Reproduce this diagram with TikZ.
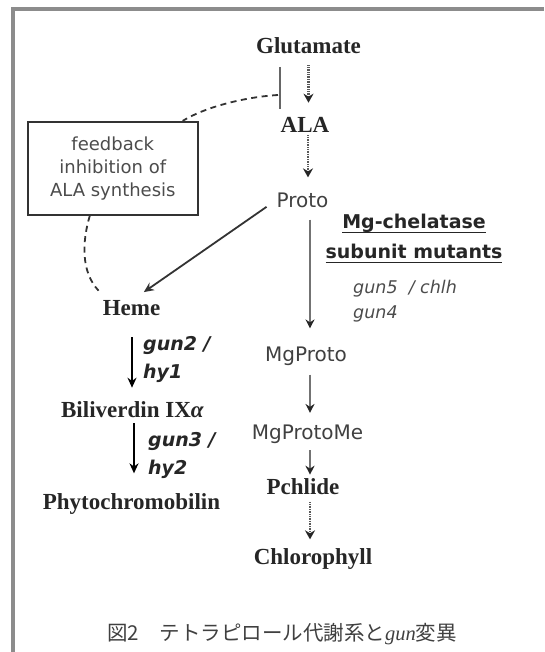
\documentclass[tikz,border=0pt]{standalone}
\usepackage{fontspec}
\setmainfont{Liberation Serif}
\newfontfamily\gothic{DejaVu Sans}
\newfontfamily\jpfont{Noto Sans CJK JP}
\usetikzlibrary{arrows.meta}
\newcommand\thickul[1]{\leavevmode\setbox0\hbox{#1}\rlap{\rule[-5pt]{\wd0}{1.8pt}}\box0}

\begin{document}
\begin{tikzpicture}[
  x=1pt, y=-1pt,
  met/.style={font=\fontsize{23}{26}\selectfont\bfseries, text=black!85, inner sep=0pt},
  smet/.style={font=\gothic\fontsize{20}{24}\selectfont, text=black!75, inner sep=0pt},
  mut/.style={font=\gothic\fontsize{19}{28}\selectfont\bfseries\itshape, text=black!85, inner sep=0pt, align=left, anchor=base west},
  blkarr/.style={line width=1.8pt, -{Stealth[length=10pt,width=9pt]}},
  gryarr/.style={line width=2.5pt, draw=black!55, -{Stealth[length=9pt,width=9pt,black!85]}},
  dotarr/.style={line width=2.4pt, draw=black!65, dash pattern=on 0.8pt off 0.9pt, -{Stealth[length=9pt,width=10pt,black!85]}},
  fb/.style={line width=1.8pt, draw=black!80, dash pattern=on 6pt off 4.5pt}
]
\useasboundingbox (0,0) rectangle (544,652);
% --- frame ---
\draw[line width=4pt, black!45] (13,652) -- (13,9) -- (544,9);

% --- main chain ---
\node[met] (glu) at (308.5,46) {Glutamate};
\node[met] (ala) at (305,124.5) {ALA};
\node[smet] (proto) at (302.5,200) {Proto};
\node[smet] (mgp) at (306,356) {MgProto};
\node[smet] (mgpme) at (307.5,434.5) {MgProtoMe};
\node[met] (pchl) at (303,487) {Pchlide};
\node[met] (chl) at (313,559) {Chlorophyll};

% --- heme branch ---
\node[met] (heme) at (131.5,308.5) {Heme};
\node[met] (bili) at (132.5,410) {Biliverdin IX\textit{α}};
\node[met] (phyto) at (131.5,504) {Phytochromobilin};

% --- feedback box ---
\node[draw=black!80, line width=1.8pt, minimum width=170pt, minimum height=93pt, inner sep=0pt,
  align=center, text=black!70, font=\gothic\fontsize{18}{23}\selectfont] (fbbox) at (112.8,168.3)
  {feedback\\inhibition of\\ALA synthesis};

% --- mutant labels (anchored on last baseline) ---
\node[font=\gothic\fontsize{19}{30}\selectfont\bfseries, text=black!85, align=center, inner sep=0pt, anchor=base]
  (chel) at (414,258.3) {\thickul{Mg-chelatase}\\\thickul{subunit mutants}};
\node[font=\gothic\fontsize{17.5}{25}\selectfont\itshape, text=black!70, align=left, inner sep=0pt, anchor=base west]
  (gun5) at (353,318.5) {gun5\ \ /\ chlh\\gun4};
\node[mut] (gun2) at (143,378) {gun2 /\\hy1};
\node[mut] (gun3) at (148,474) {gun3 /\\hy2};

% --- caption ---
\node[font=\jpfont\fontsize{20.5}{24}\selectfont, text=black!75] (cap) at (282,634)
  {図2　テトラピロール代謝系と{\rmfamily\itshape gun}変異};

% --- arrows ---
\draw[dotarr, shorten <=11pt, shorten >=14pt] (glu.south) -- (glu.south |- ala.north);
\draw[dotarr, shorten <=3pt, shorten >=15pt] ([xshift=3pt]ala.south) -- ([xshift=3pt]ala.south |- proto.north);
\draw[gryarr, shorten <=12pt, shorten >=18pt] ([xshift=7.5pt]proto.south) -- ([xshift=7.5pt]proto.south |- mgp.north);
\draw[gryarr, shorten <=9pt, shorten >=12pt] ([xshift=4pt]mgp.south) -- ([xshift=4pt]mgp.south |- mgpme.north);
\draw[gryarr, shorten <=6pt, shorten >=4pt] ([xshift=2.5pt]mgpme.south) -- ([xshift=2.5pt]mgpme.south |- pchl.north);
\draw[dotarr, shorten <=7pt, shorten >=9pt] ([xshift=7pt]pchl.south) -- ([xshift=7pt]pchl.south |- chl.north);
\draw[blkarr, draw=black!80, shorten <=12pt, shorten >=15pt] (proto.west) -- (heme.north);
\draw[blkarr, shorten <=21pt, shorten >=14pt] ([xshift=0.5pt]heme.south) -- ([xshift=0.5pt]heme.south |- bili.north);
\draw[blkarr, shorten <=5pt, shorten >=20pt] ([xshift=1.5pt]bili.south) -- ([xshift=1.5pt]bili.south |- phyto.north);

% --- feedback inhibition ---
\coordinate (bartop) at (280,67);
\coordinate (barbot) at (280,109);
\coordinate (inh) at (278,95);
\draw[line width=2.8pt, black!60] (bartop) -- (barbot);
\draw[fb] (inh) .. controls (245,97) and (205,107) .. ([xshift=-16pt]fbbox.north east);
\draw[fb] ([xshift=-23pt]fbbox.south) .. controls (82,242) and (81,272) .. ([shift={(-4,-10)}]heme.north west);

\end{tikzpicture}
\end{document}
